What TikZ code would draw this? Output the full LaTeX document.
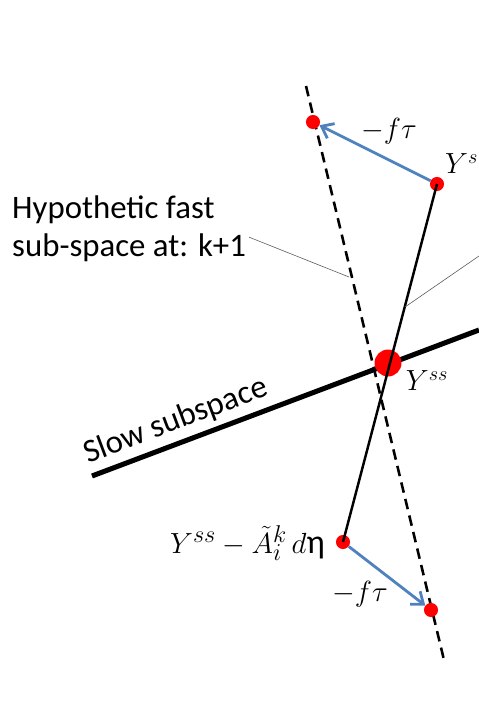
\documentclass[tikz,border=0pt]{standalone}
\usepackage{fontspec}
\setmainfont{Carlito}
\usetikzlibrary{arrows.meta,positioning}
\definecolor{arrblue}{HTML}{4F81BD}
\definecolor{dotred}{HTML}{FF0000}

\begin{document}
\begin{tikzpicture}[x=0.03cm, y=-0.03cm, every node/.style={font=\fontsize{28}{33}\selectfont}]
  \useasboundingbox (0,0) rectangle (479,703);
  \tikzset{
    dot/.style={circle, fill=dotred, inner sep=0pt, minimum size=12pt},
    bigdot/.style={circle, fill=dotred, inner sep=0pt, minimum size=23pt},
    flow/.style={arrblue, line width=2.4pt, -{Straight Barb[length=9pt, width=14pt, line width=2.4pt]}},
    lbl/.style={font=\fontsize{27}{30}\selectfont, inner sep=0pt}
  }

  % Slow subspace
  \coordinate (slowa) at (92,476);
  \coordinate (slowb) at (479,330);
  \draw[line width=4.3pt] (slowa) -- (slowb);
  \node[rotate=20.7, inner sep=0pt] (slowlbl) at (176,421) {Slow subspace};

  % Hypothetic fast sub-space (dashed)
  \coordinate (dtop) at (306,86);
  \coordinate (dbot) at (444,660);
  \draw[line width=2.2pt, dash pattern=on 9pt off 5.5pt] (dtop) -- (dbot);

  % Points
  \node[bigdot] (yss) at (388,363) {};
  \node[dot] (ys) at (437,184) {};
  \node[dot] (ysm) at (343,542) {};
  \node[dot] (ptop) at (313,122) {};
  \node[dot] (pbot) at (431,610) {};

  % Current fast sub-space
  \draw[line width=2.1pt] (ys.center) -- (ysm.center);

  % Projections
  \draw[flow] (ys) -- (ptop);
  \draw[flow] (ysm) -- (pbot);

  % Labels
  \node[lbl] (ftautop) at (389,131) {$-f\tau$};
  \node[lbl] (ftaubot) at (360,594) {$-f\tau$};
  \node[lbl, anchor=south west] (yslbl) at (445,174) {$Y^{s}$};
  \node[lbl] (ysslbl) at (427,381) {$Y^{ss}$};
  \node[lbl, font=\fontsize{29}{30}\selectfont, anchor=east] (ysmlbl) at (325,543) {$Y^{ss}-\tilde{A}_i^k\,d$η};

  % Callout text
  \node[align=left, anchor=north west, inner sep=0pt] (fastlbl) at (12,195)
    {Hypothetic fast\\sub-space at: k+1};
  \coordinate (tipa) at (349,277);
  \draw[gray!70!black, line width=0.5pt] (fastlbl.south east) ++(3,-25) -- (tipa);
  \coordinate (tipb) at (405,307);
  \coordinate (tipc) at (479,256);
  \draw[gray!70!black, line width=0.5pt] (tipb) -- (tipc);
\end{tikzpicture}
\end{document}
